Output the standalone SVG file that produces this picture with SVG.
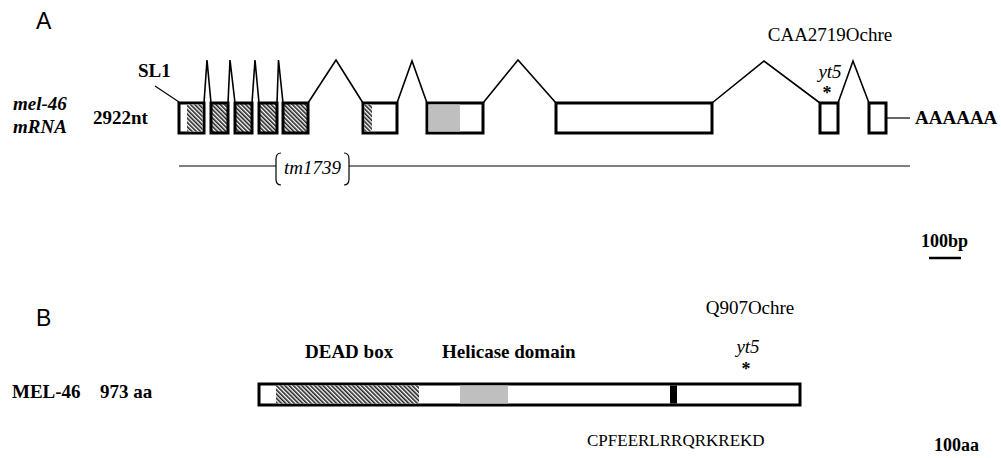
<svg xmlns="http://www.w3.org/2000/svg" width="1001" height="458" viewBox="0 0 1001 458">
<style>
.t{font-family:"Liberation Serif","Times New Roman",serif;fill:#000}
.b{font-weight:bold}
.i{font-style:italic}
.s{font-family:"Liberation Sans",Arial,sans-serif;font-size:23px;fill:#000}
.box{fill:#fff;stroke:#000;stroke-width:3}
.intr{fill:none;stroke:#000;stroke-width:1.6;stroke-linejoin:miter}
.thin{fill:none;stroke:#000;stroke-width:1.2}
</style>
<defs>
<pattern id="hatch" width="3" height="3" patternUnits="userSpaceOnUse" patternTransform="rotate(-45)">
<rect width="3" height="3" fill="#fff"/>
<rect width="1.6" height="3" fill="#222"/>
</pattern>
</defs>
<rect width="1001" height="458" fill="#fff"/>

<g id="panelA">
<text class="s" x="36" y="29">A</text>
<g id="labelsA">
<text class="t b i" x="13" y="110" font-size="19">mel-46</text>
<text class="t b i" x="13" y="133" font-size="19">mRNA</text>
<text class="t b" x="93" y="124" font-size="19">2922nt</text>
<text class="t b" x="138" y="77" font-size="19">SL1</text>
<text class="t" x="830" y="41" font-size="19" text-anchor="middle">CAA2719Ochre</text>
<text class="t i" x="830" y="78" font-size="19" text-anchor="middle">yt5</text>
<text class="t b" x="827" y="99" font-size="18" text-anchor="middle">*</text>
<text class="t b" x="915" y="124" font-size="19">AAAAAA</text>
</g>

<g id="connectors">
<line class="thin" x1="155" y1="86" x2="179" y2="102"/>
<polyline class="intr" points="204,103 207,60 211,103"/>
<polyline class="intr" points="228,103 230,60 235,103"/>
<polyline class="intr" points="252,103 255,60 259,103"/>
<polyline class="intr" points="277,103 278.5,60 283,103"/>
<polyline class="intr" points="308,103 336,60 363,103"/>
<polyline class="intr" points="397,103 412,61 427,103"/>
<polyline class="intr" points="483,103 518,60 556,103"/>
<polyline class="intr" points="712,103 764,61 820,103"/>
<polyline class="intr" points="838,103 853,61 869,103"/>
<line class="thin" x1="886" y1="118" x2="910" y2="118"/>
</g>

<g id="exon1">
<rect class="box" x="179" y="103" width="25" height="30"/>
<rect x="187" y="104.5" width="15.5" height="27" fill="url(#hatch)"/>
</g>
<g id="exon2"><rect class="box" x="211" y="103" width="17" height="30" fill="url(#hatch)" style="fill:url(#hatch)"/></g>
<g id="exon3"><rect class="box" x="235" y="103" width="17" height="30" style="fill:url(#hatch)"/></g>
<g id="exon4"><rect class="box" x="259" y="103" width="18" height="30" style="fill:url(#hatch)"/></g>
<g id="exon5"><rect class="box" x="283" y="103" width="25" height="30" style="fill:url(#hatch)"/></g>
<g id="exon6">
<rect class="box" x="363" y="103" width="34" height="30"/>
<rect x="364.5" y="104.5" width="7.5" height="27" fill="url(#hatch)"/>
</g>
<g id="exon7">
<rect class="box" x="427" y="103" width="56" height="30"/>
<rect x="428.5" y="104.5" width="31.5" height="27" fill="#bfbfbf"/>
</g>
<g id="exon8"><rect class="box" x="556" y="103" width="156" height="30"/></g>
<g id="exon9"><rect class="box" x="820" y="103" width="18" height="30"/></g>
<g id="exon10"><rect class="box" x="869" y="103" width="17" height="30"/></g>

<g id="deletion">
<line class="thin" x1="179" y1="166" x2="276" y2="166"/>
<line class="thin" x1="349" y1="166" x2="910" y2="166"/>
<path class="thin" d="M281,153 Q276,153 276,159 L276,179 Q276,185 281,185"/>
<path class="thin" d="M344,153 Q349,153 349,159 L349,179 Q349,185 344,185"/>
<text class="t i" x="312.5" y="174" font-size="19" text-anchor="middle">tm1739</text>
</g>

<g id="scaleA">
<text class="t b" x="921" y="247" font-size="18">100bp</text>
<line x1="929" y1="258" x2="961" y2="258" stroke="#000" stroke-width="2.5"/>
</g>
</g>

<g id="panelB">
<text class="s" x="36" y="326">B</text>
<text class="t b" x="12" y="398" font-size="19">MEL-46</text>
<text class="t b" x="100" y="398" font-size="19">973 aa</text>
<text class="t b" x="305" y="358" font-size="19">DEAD box</text>
<text class="t b" x="442" y="358" font-size="19">Helicase domain</text>
<text class="t" x="750" y="314" font-size="19" text-anchor="middle">Q907Ochre</text>
<text class="t i" x="748" y="353" font-size="19" text-anchor="middle">yt5</text>
<text class="t b" x="746" y="375" font-size="18" text-anchor="middle">*</text>
<g id="protein">
<rect class="box" x="259" y="384" width="541" height="21"/>
<rect x="276" y="385.5" width="143" height="18" fill="url(#hatch)"/>
<rect x="460" y="385.5" width="48" height="18" fill="#bfbfbf"/>
<rect x="670" y="385.5" width="7" height="18" fill="#000"/>
</g>
<text class="t" x="587" y="446" font-size="17">CPFEERLRRQRKREKD</text>
<text class="t b" x="934" y="451" font-size="18">100aa</text>
</g>
</svg>
